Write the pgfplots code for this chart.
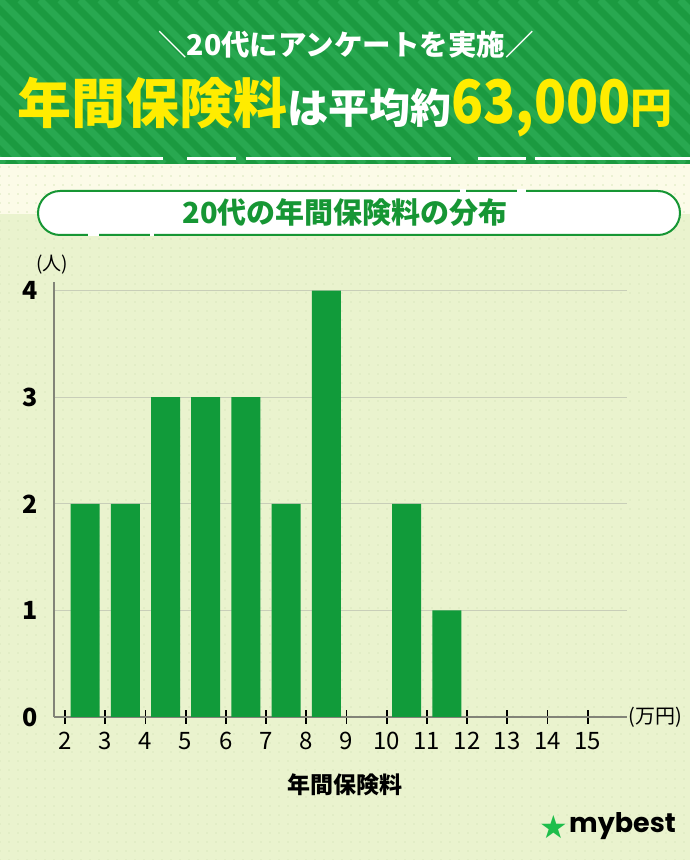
\documentclass[border=0pt]{standalone}
\usepackage{pgfplots}
\pgfplotsset{compat=1.18}
\usepackage{fontspec}
\setmainfont{Noto Sans CJK JP}
\newfontfamily\jp{Noto Sans CJK JP}
\newfontfamily\pop{Poppins}
\newfontfamily\dv{DejaVu Sans}
\usetikzlibrary{patterns.meta}
\definecolor{bggreen}{RGB}{234,243,206}
\definecolor{cream}{RGB}{252,251,232}
\definecolor{dotc}{RGB}{219,231,190}
\definecolor{bannerdark}{RGB}{27,154,64}
\definecolor{bannerlight}{RGB}{40,168,80}
\definecolor{titlegreen}{RGB}{22,150,52}
\definecolor{bargreen}{RGB}{17,155,58}
\definecolor{gridc}{RGB}{200,206,184}
\definecolor{axisc}{RGB}{130,132,120}
\definecolor{yellowc}{RGB}{255,236,0}
\definecolor{stargreen}{RGB}{30,190,75}
\begin{document}
\begin{tikzpicture}[x=1pt,y=1pt]
\useasboundingbox (0,0) rectangle (690,860);
% backgrounds
\fill[bggreen] (0,0) rectangle (690,646);
\fill[cream] (0,646) rectangle (690,696);
\fill[pattern={Dots[distance=9pt,radius=0.9pt]}, pattern color=dotc] (0,0) rectangle (690,696);
% banner
\fill[bannerdark] (0,696) rectangle (690,860);
\begin{scope}
\clip (0,696) rectangle (690,860);
\foreach \i in {-10,...,36} {\draw[bannerlight, line width=7pt] ({\i*20},860) -- ({\i*20+164},696);}
\end{scope}
\foreach \a/\b in {0/163,187/236,246/451,478/526,535/690} {\draw[white, line width=3pt] (\a,701) -- (\b,701);}
% title box
\draw[titlegreen, line width=2pt, fill=white, rounded corners=22pt] (38,625) rectangle (680,669);
\foreach \a/\b in {460/466,517/526} {\draw[white,line width=3pt] (\a,669) -- (\b,669);}
\foreach \a/\b in {88/99,150/154} {\draw[white,line width=3pt] (\a,625) -- (\b,625);}
% headings
\node[white, font=\jp\bfseries\fontsize{28.5}{28.5}\selectfont] at (346,815) {＼20代にアンケートを実施／};
\node[font=\jp\bfseries, inner sep=0pt] at (345,753) {{\fontsize{54}{54}\selectfont\color{yellowc}年間保険料}{\fontsize{41}{41}\selectfont\color{white}は平均約}{\fontsize{60}{60}\selectfont\color{yellowc}\scalebox{0.88}[1]{63,000}}{\fontsize{42}{42}\selectfont\color{yellowc}円}};
\node[titlegreen, font=\jp\bfseries\fontsize{29}{29}\selectfont] at (345,647) {20代の年間保険料の分布};
% chart
\begin{axis}[
  at={(54pt,143pt)}, anchor=south west, scale only axis,
  width=573pt, height=435pt,
  xmin=1.726, xmax=15.98, ymin=0, ymax=4.08,
  axis x line=bottom, axis y line=left,
  axis line style={-, axisc, line width=1.2pt},
  xtick={2,...,15}, ytick={0,...,4},
  ymajorgrids, grid style={gridc, line width=1pt},
  major tick length=14pt, tick align=center,
  xtick style={black, line width=1.8pt},
  ytick style={draw=none},
  /pgf/number format/assume math mode=true,
  xticklabel style={font=\jp\fontsize{24}{24}\selectfont, yshift=-5pt},
  yticklabel style={font=\jp\bfseries\fontsize{25}{25}\selectfont, xshift=-6pt},
  clip=false,
]
\addplot[ybar, bar width=29pt, fill=bargreen, draw=none] coordinates {
  (2.5,2) (3.5,2) (4.5,3) (5.5,3) (6.5,3) (7.5,2) (8.5,4) (10.5,2) (11.5,1)};
\end{axis}
\node[font=\jp\fontsize{19}{19}\selectfont] at (52,595) {(人)};
\node[font=\jp\fontsize{20}{20}\selectfont] at (655,143) {(万円)};
\node[font=\jp\bfseries\fontsize{23}{23}\selectfont] at (345,75) {年間保険料};
\node[stargreen, font=\dv\fontsize{32}{32}\selectfont, inner sep=0pt] at (554,33) {★};
\node[anchor=west, font=\pop\bfseries\fontsize{27}{27}\selectfont, inner sep=0pt] at (569,34) {mybest};
\end{tikzpicture}
\end{document}
